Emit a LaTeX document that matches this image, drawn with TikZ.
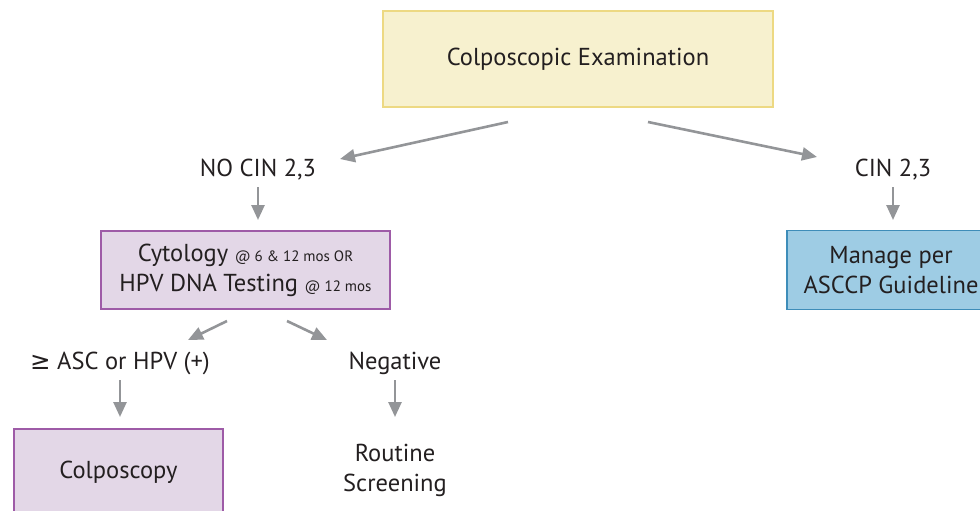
\documentclass[tikz,border=0pt]{standalone}
\usepackage{fontspec}
\setmainfont{PT Sans}
\newfontfamily\symfont{DejaVu Sans}
\usetikzlibrary{arrows.meta}
\definecolor{yfill}{HTML}{F7F1CF}
\definecolor{ydraw}{HTML}{EDD983}
\definecolor{pfill}{HTML}{E3D7E7}
\definecolor{pdraw}{HTML}{9E5BA7}
\definecolor{bfill}{HTML}{9ECCE4}
\definecolor{bdraw}{HTML}{3E8DB9}
\definecolor{arrgray}{HTML}{939598}
\definecolor{txt}{HTML}{231F20}
\newcommand{\smalltxt}[1]{{\fontsize{15}{17}\selectfont #1}}
\begin{document}
\begin{tikzpicture}[x=1pt,y=-1pt,
  arr/.style={draw=arrgray, line width=2.6pt, -{Triangle[length=15pt,width=13pt]}},
  box/.style={rectangle, inner sep=0pt, line width=1.3pt, text=txt, align=center,
    font=\fontsize{24.5}{30}\selectfont},
  lbl/.style={inner sep=0pt, text=txt, align=center, font=\fontsize{24.5}{30}\selectfont},
]
\useasboundingbox (0,0) rectangle (980,511);

\node[box, fill=yfill, draw=ydraw, minimum width=390pt, minimum height=96pt] (top) at (578,59) {Colposcopic Examination};
\node[box, fill=pfill, draw=pdraw, minimum width=289pt, minimum height=78pt] (cyto) at (245.5,270)
  {Cytology \smalltxt{@ 6 \& 12 mos OR}\\HPV DNA Testing \smalltxt{@ 12 mos}};
\node[box, fill=bfill, draw=bdraw, minimum width=208pt, minimum height=79pt] (manage) at (891,270)
  {Manage per\\ASCCP Guideline};
\node[box, fill=pfill, draw=pdraw, minimum width=209pt, minimum height=86pt] (colpo) at (118.5,472) {Colposcopy};

\node[lbl] (nocin) at (258,170) {NO CIN 2,3};
\node[lbl] (cin) at (893,170) {CIN 2,3};
\node[lbl] (asc) at (120,363) {{\symfont ≥} ASC or HPV (+)};
\node[lbl] (neg) at (395,363) {Negative};
\node[lbl] (routine) at (395,470) {Routine\\Screening};

\coordinate (a1s) at (508,122); \coordinate (a1e) at (340,159);
\coordinate (a2s) at (648,122); \coordinate (a2e) at (817,157);
\coordinate (a3s) at (258,187); \coordinate (a3e) at (258,220);
\coordinate (a4s) at (893,187); \coordinate (a4e) at (893,220);
\coordinate (a5s) at (227,321); \coordinate (a5e) at (188,340);
\coordinate (a6s) at (287,321); \coordinate (a6e) at (327,340);
\coordinate (a7s) at (120,380); \coordinate (a7e) at (120,417);
\coordinate (a8s) at (395,380); \coordinate (a8e) at (395,417);

\draw[arr] (a1s) -- (a1e);
\draw[arr] (a2s) -- (a2e);
\draw[arr] (a3s) -- (a3e);
\draw[arr] (a4s) -- (a4e);
\draw[arr] (a5s) -- (a5e);
\draw[arr] (a6s) -- (a6e);
\draw[arr] (a7s) -- (a7e);
\draw[arr] (a8s) -- (a8e);
\end{tikzpicture}
\end{document}
